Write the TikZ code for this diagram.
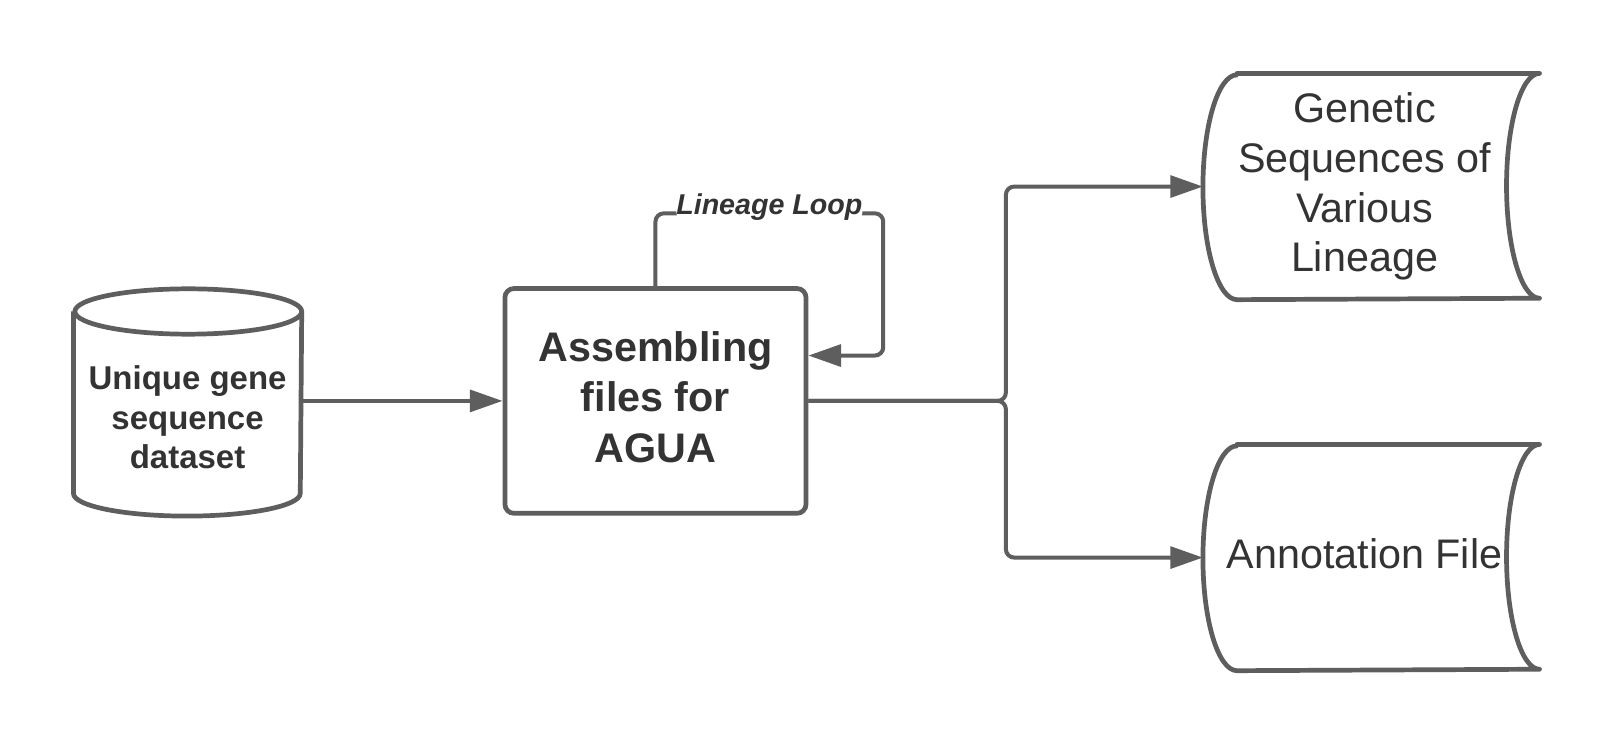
\documentclass[tikz,border=0pt]{standalone}
\usepackage{fontspec}
\setmainfont{Liberation Sans}
\usetikzlibrary{calc}
\usetikzlibrary{arrows.meta}
\definecolor{linegray}{HTML}{5E5E5E}
\definecolor{textgray}{HTML}{333333}

\begin{document}
\begin{tikzpicture} [x=.01cm, y=-.01cm,
 shapeline/.style={draw=linegray, line width=1.3pt, line join=round},
 flow/.style={draw=linegray, line width=1.1pt, rounded corners=2.3pt, -{Triangle[length=9pt,width=6pt]}},
 bigtext/.style={text=textgray, align=center, font=\fontsize{11.4}{13.7}\selectfont},
 loopname/.style={text=textgray, fill=white, inner sep=0pt, yshift=.06cm, font=\bfseries\itshape\fontsize{7.9}{9.5}\selectfont}]
\path[use as bounding box, fill=white] (0,0) rectangle (1568,723.5);
\node[text=textgray, align=center, minimum width=2.2cm, minimum height=2.02cm, font=\bfseries\fontsize{9.1}{10.9}\selectfont] (data) at (182,405) {Unique gene\\sequence\\dataset};
\node[bigtext, draw=linegray, line width=1.3pt, rounded corners=2.5pt, minimum width=2.92cm, minimum height=2.18cm, text depth=.08cm, font=\bfseries\fontsize{11.4}{13.9}\selectfont] (assemble) at (636,389) {Assembling\\files for\\AGUA};
\node[bigtext, minimum width=3.12cm, minimum height=2.18cm] (seq) at (1324,181) {Genetic\\Sequences of\\Various\\Lineage};
\node[bigtext, minimum width=3.12cm, minimum height=2.18cm, text depth=.08cm] (ann) at (1324,541) {Annotation File};
\draw[shapeline] ([yshift=.01cm]data.north west) -- ([yshift=.28cm]data.south west)
 arc[start angle=180, end angle=360, x radius=1.1cm, y radius=.22cm] -- ([yshift=.01cm]data.north east)
 arc[start angle=0, end angle=180, x radius=1.1cm, y radius=.22cm]
 arc[start angle=180, end angle=360, x radius=1.1cm, y radius=.22cm];
\foreach \n in {seq,ann} {
 \draw[shapeline] ([xshift=.33cm]\n.north west) -- ([xshift=.13cm]\n.north east)
  arc[start angle=90, end angle=270, x radius=.32cm, y radius=1.09cm] -- ([xshift=.33cm]\n.south west)
  arc[start angle=270, end angle=90, x radius=.33cm, y radius=1.09cm] -- cycle;
}
\coordinate (looptop) at (857,207);
\coordinate (fork) at (976,389);
\draw[flow] (data.east |- assemble.west) -- (assemble.west);
\draw[flow] (assemble.north) |- node[pos=.75, loopname] {Lineage Loop} (looptop) |- ([yshift=.44cm]assemble.east);
\draw[flow] (assemble.east) -- (fork) |- (seq.west);
\draw[flow] (assemble.east) -- (fork) |- (ann.west);
\end{tikzpicture}
\end{document}
